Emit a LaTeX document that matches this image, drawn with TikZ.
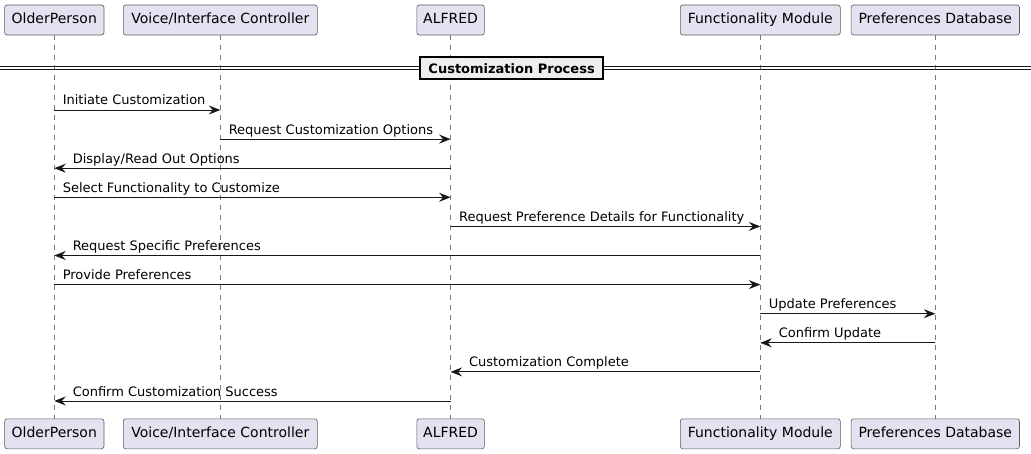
\documentclass[tikz,border=0pt]{standalone}
\usepackage{fontspec}
\setmainfont{DejaVu Sans}
\usetikzlibrary{arrows.meta}
\definecolor{pfill}{HTML}{E2E2F0}
\definecolor{pline}{HTML}{181818}
\definecolor{bline}{HTML}{5A5A5A}
\definecolor{lline}{HTML}{7A7A7A}
\definecolor{dfill}{HTML}{EEEEEE}
\tikzset{
  part/.style={draw=bline, fill=pfill, line width=0.6pt, rounded corners=2.5pt,
    minimum height=30pt, inner sep=0pt, text height=10.5pt, text depth=3pt,
    font=\fontsize{14}{16}\selectfont},
  life/.style={draw=lline, line width=0.6pt, dash pattern=on 5pt off 5pt},
  msg/.style={draw=pline, line width=0.9pt, -{Stealth[length=11.5pt,width=9pt,inset=4pt]}},
  lbl/.style={font=\fontsize{13}{15}\selectfont, inner sep=0pt},
  rlbl/.style={lbl, pos=0, anchor=base west, xshift=8pt, yshift=5pt},
  llbl/.style={lbl, pos=1, anchor=base west, xshift=18pt, yshift=5pt},
}
\begin{document}
\begin{tikzpicture}[x=1pt,y=-1pt]
\useasboundingbox (0,0) rectangle (1031,454);
% top participants
\node[part, minimum width=99.3pt] (p1t) at (54.3,20) {OlderPerson};
\node[part, minimum width=194pt] (p2t) at (220.3,20) {Voice/Interface Controller};
\node[part, minimum width=67.6pt] (p3t) at (450.6,20) {ALFRED};
\node[part, minimum width=160pt] (p4t) at (760.3,20) {Functionality Module};
\node[part, minimum width=168.3pt] (p5t) at (935.3,20) {Preferences Database};
% bottom participants
\node[part, minimum width=99.3pt] (p1b) at (54.3,433.8) {OlderPerson};
\node[part, minimum width=194pt] (p2b) at (220.3,433.8) {Voice/Interface Controller};
\node[part, minimum width=67.6pt] (p3b) at (450.6,433.8) {ALFRED};
\node[part, minimum width=160pt] (p4b) at (760.3,433.8) {Functionality Module};
\node[part, minimum width=168.3pt] (p5b) at (935.3,433.8) {Preferences Database};
% lifelines
\foreach \i in {1,...,5}{\draw[life] (p\i t.south) -- (p\i b.north);}
% divider
\coordinate (dl) at (0,68);
\coordinate (dr) at (1031,68);
\draw[pline, line width=1pt] ([yshift=1.6pt]dl) -- ([yshift=1.6pt]dr);
\draw[pline, line width=1pt] ([yshift=-1.6pt]dl) -- ([yshift=-1.6pt]dr);
\node[draw=black, fill=dfill, line width=2pt, minimum width=183pt, minimum height=22pt,
  inner sep=0pt, font=\fontsize{13}{15}\selectfont\bfseries] (div) at (511.6,68.3) {Customization Process};
% messages
\draw[msg] (p1t |- 0,110) -- (p2t |- 0,110) node[rlbl] {Initiate Customization};
\draw[msg] (p2t |- 0,139.1) -- (p3t |- 0,139.1) node[rlbl] {Request Customization Options};
\draw[msg] (p3t |- 0,168.2) -- (p1t |- 0,168.2) node[llbl] {Display/Read Out Options};
\draw[msg] (p1t |- 0,197.3) -- (p3t |- 0,197.3) node[rlbl] {Select Functionality to Customize};
\draw[msg] (p3t |- 0,226.4) -- (p4t |- 0,226.4) node[rlbl] {Request Preference Details for Functionality};
\draw[msg] (p4t |- 0,255.5) -- (p1t |- 0,255.5) node[llbl] {Request Specific Preferences};
\draw[msg] (p1t |- 0,284.6) -- (p4t |- 0,284.6) node[rlbl] {Provide Preferences};
\draw[msg] (p4t |- 0,313.7) -- (p5t |- 0,313.7) node[rlbl] {Update Preferences};
\draw[msg] (p5t |- 0,342.8) -- (p4t |- 0,342.8) node[llbl] {Confirm Update};
\draw[msg] (p4t |- 0,371.9) -- (p3t |- 0,371.9) node[llbl] {Customization Complete};
\draw[msg] (p3t |- 0,401) -- (p1t |- 0,401) node[llbl] {Confirm Customization Success};
\end{tikzpicture}
\end{document}
